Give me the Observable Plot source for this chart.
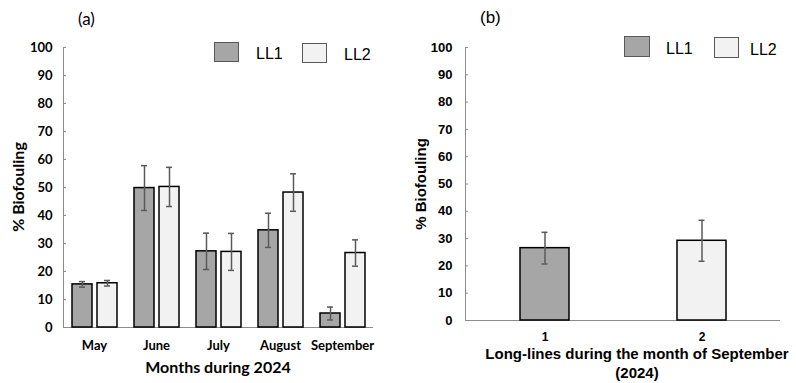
<!DOCTYPE html>
<html><head><meta charset="utf-8">
<script src="https://cdn.jsdelivr.net/npm/d3@7"></script>
<script src="https://cdn.jsdelivr.net/npm/@observablehq/plot@0.6"></script>
<style>
body{margin:0;background:#fff;width:796px;height:383px;overflow:hidden;position:relative;}
#a,#b{position:absolute;top:0}
#a{left:0} #b{left:400px}
.t{position:absolute;white-space:nowrap;color:#000;line-height:1}
.sw{position:absolute;box-sizing:border-box;border:1px solid #595959}
</style></head><body>
<div id="a"></div><div id="b"></div>
<script>
// ---- data ----
const months = ["May", "June", "July", "August", "September"];
const series = ["LL1", "LL2"];
const ll1Mean = [15.4, 49.8, 27.2, 34.7, 5.0];
const ll1Err  = [1.0, 8.0, 6.5, 6.1, 2.3];
const ll2Mean = [15.8, 50.2, 27.0, 48.2, 26.6];
const ll2Err  = [1.0, 7.0, 6.6, 6.7, 4.7];
const yTicks = [0, 10, 20, 30, 40, 50, 60, 70, 80, 90, 100];
const septLines = ["1", "2"];
const septSeries = ["LL1", "LL2"];
const septMean = [26.5, 29.2];
const septErr = [5.8, 7.5];
const fills = ["#a6a6a6", "#f2f2f2"];

const dataA = months.flatMap((m, i) => [
  {month: m, series: "LL1", mean: ll1Mean[i], err: ll1Err[i]},
  {month: m, series: "LL2", mean: ll2Mean[i], err: ll2Err[i]}
]);
const dataB = septLines.map((l, i) => ({line: l, series: septSeries[i], mean: septMean[i], err: septErr[i]}));

const axisGray = "#8c8c8c";
const errGray = "#5a5a5a";

const plotA = Plot.plot({
  width: 400, height: 383,
  marginLeft: 63, marginRight: 27, marginTop: 47, marginBottom: 56,
  style: {fontFamily: "Lato, sans-serif", fontSize: "13px", fontWeight: "bold", background: "transparent", color: "#000"},
  fx: {domain: months, padding: 0, label: null, axis: "bottom", tickSize: 0, tickPadding: 13},
  x: {domain: series, paddingInner: 0.2, paddingOuter: 0.34, axis: null},
  y: {domain: [0, 100], label: null},
  color: {domain: series, range: fills},
  marks: [
    Plot.frame({anchor: "left", stroke: axisGray, facetAnchor: "left"}),
    Plot.ruleY([0], {stroke: axisGray, strokeWidth: 1}),
    Plot.axisY(yTicks, {tickSize: 0, tickPadding: 11, label: null, fill: "#000", fontSize: 13}),
    Plot.axisY(yTicks, {tickSize: -3, fill: "none", label: null, stroke: axisGray}),
    Plot.barY(dataA, {fx: "month", x: "series", y: "mean", fill: "series", stroke: "#000", strokeWidth: 1.5}),
    Plot.ruleX(dataA, {fx: "month", x: "series", y1: d => d.mean - d.err, y2: d => d.mean + d.err, stroke: errGray, strokeWidth: 1.5}),
    Plot.tickY(dataA, {fx: "month", x: "series", y: d => d.mean - d.err, stroke: errGray, strokeWidth: 1.5, insetLeft: 7, insetRight: 7}),
    Plot.tickY(dataA, {fx: "month", x: "series", y: d => d.mean + d.err, stroke: errGray, strokeWidth: 1.5, insetLeft: 7, insetRight: 7})
  ]
});
document.getElementById("a").appendChild(plotA);

const plotB = Plot.plot({
  width: 396, height: 383,
  marginLeft: 65, marginRight: 16, marginTop: 47, marginBottom: 63,
  style: {fontFamily: "'Liberation Sans', Arial, sans-serif", fontSize: "13px", fontWeight: "bold", background: "transparent", color: "#000"},
  x: {domain: septLines, paddingInner: 0.69, paddingOuter: 0.345, label: null, axis: null},
  y: {domain: [0, 100], label: null},
  color: {domain: septSeries, range: fills},
  marks: [
    Plot.frame({anchor: "left", stroke: axisGray}),
    Plot.ruleY([0], {stroke: axisGray, strokeWidth: 1}),
    Plot.axisY(yTicks, {tickSize: 0, tickPadding: 13, label: null, fontSize: 13}),
    Plot.axisY(yTicks, {tickSize: -3, fill: "none", label: null, stroke: axisGray}),
    Plot.axisX({anchor: "bottom", tickSize: 0, tickPadding: 12, label: null, fontSize: 12}),
    Plot.barY(dataB, {x: "line", y: "mean", fill: "series", stroke: "#000", strokeWidth: 1.5}),
    Plot.ruleX(dataB, {x: "line", y1: d => d.mean - d.err, y2: d => d.mean + d.err, stroke: errGray, strokeWidth: 1.5}),
    Plot.tickY(dataB, {x: "line", y: d => d.mean - d.err, stroke: errGray, strokeWidth: 1.5, insetLeft: 21.5, insetRight: 21.5}),
    Plot.tickY(dataB, {x: "line", y: d => d.mean + d.err, stroke: errGray, strokeWidth: 1.5, insetLeft: 21.5, insetRight: 21.5})
  ]
});
document.getElementById("b").appendChild(plotB);

// ---- titles, axis titles, legends (HTML) ----
function addText(txt, css) {
  const d = document.createElement("div");
  d.className = "t";
  d.textContent = txt;
  Object.assign(d.style, css);
  document.body.appendChild(d);
  return d;
}
function addSwatch(css) {
  const d = document.createElement("div");
  d.className = "sw";
  Object.assign(d.style, css);
  document.body.appendChild(d);
}
const lato = "Lato, sans-serif";
const arial = "'Liberation Sans', Arial, sans-serif";

addText("(a)", {left: "78px", top: "10px", fontFamily: lato, fontSize: "17px"});
addText("(b)", {left: "480px", top: "9px", fontFamily: arial, fontSize: "17px"});

addText("% Biofouling", {left: "18px", top: "187px", fontFamily: lato, fontSize: "16px", fontWeight: "bold", transform: "translate(-50%,-50%) rotate(-90deg)"});
addText("% Biofouling", {left: "420px", top: "184px", fontFamily: arial, fontSize: "15px", fontWeight: "bold", transform: "translate(-50%,-50%) rotate(-90deg)"});

addText("Months during 2024", {left: "218px", top: "367px", fontFamily: lato, fontSize: "16px", fontWeight: "bold", transform: "translate(-50%,-50%)"});
addText("Long-lines during the month of September\n(2024)", {left: "637px", top: "363px", fontFamily: arial, fontSize: "15px", fontWeight: "bold", textAlign: "center", whiteSpace: "pre", lineHeight: "19px", transform: "translate(-50%,-50%)"});

// legends
addSwatch({left: "214px", top: "42px", width: "25px", height: "20px", background: fills[0]});
addText(series[0], {left: "256px", top: "46px", fontFamily: arial, fontSize: "16px"});
addSwatch({left: "302px", top: "43px", width: "25px", height: "20px", background: fills[1]});
addText(series[1], {left: "344px", top: "47px", fontFamily: arial, fontSize: "16px"});

addSwatch({left: "624px", top: "36px", width: "26px", height: "21px", background: fills[0]});
addText(septSeries[0], {left: "666px", top: "41px", fontFamily: arial, fontSize: "16px"});
addSwatch({left: "714px", top: "37px", width: "25px", height: "21px", background: fills[1]});
addText(septSeries[1], {left: "750px", top: "42px", fontFamily: arial, fontSize: "16px"});
</script>
</body></html>
